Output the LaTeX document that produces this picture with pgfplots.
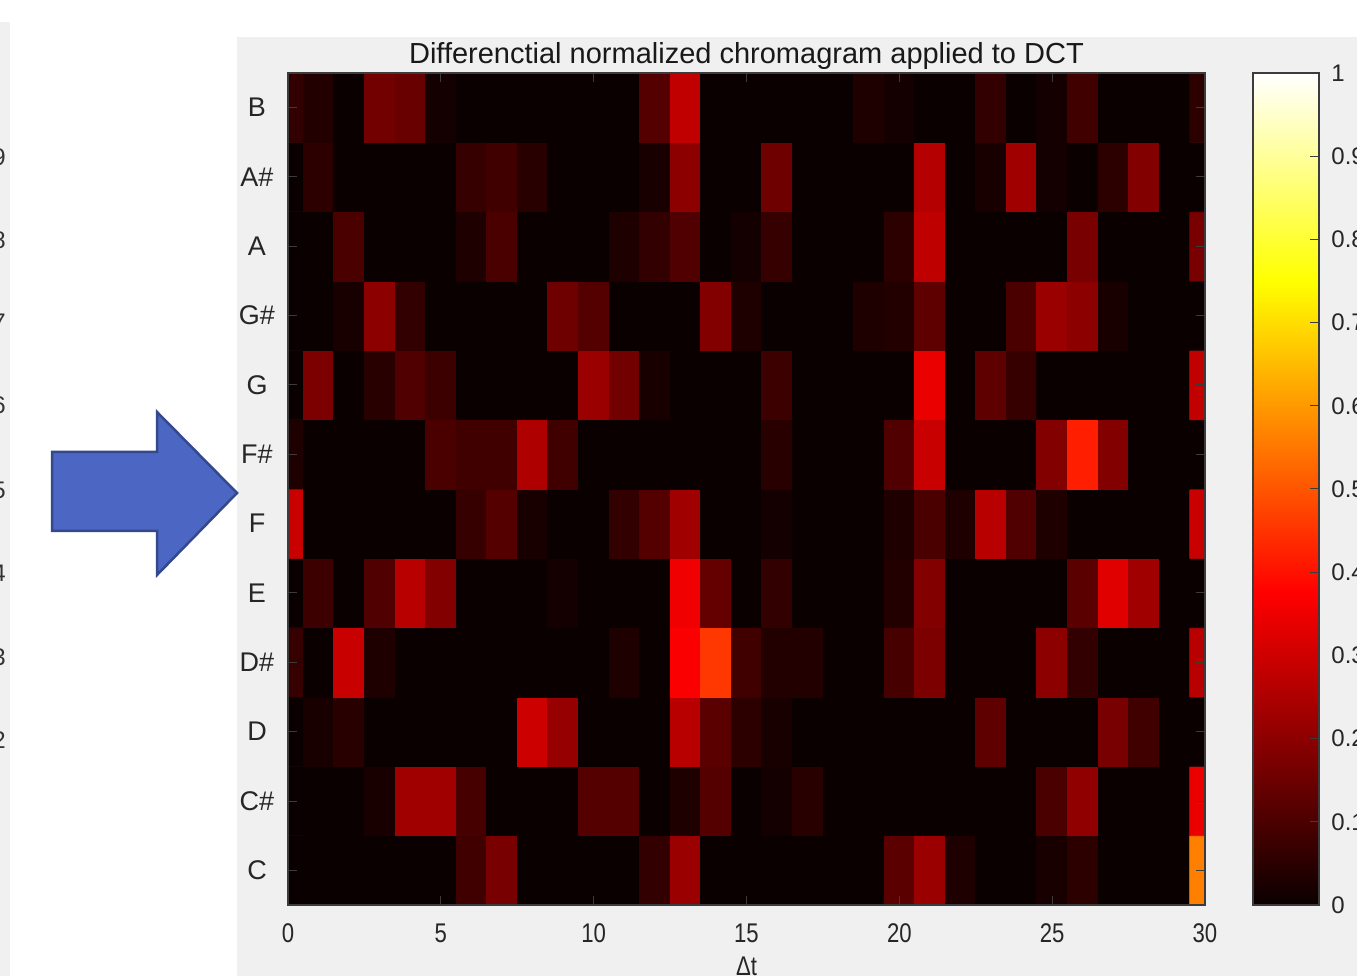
\documentclass[border=0pt]{standalone}
\usepackage{fontspec}
\setmainfont{Liberation Sans}
\newfontfamily\narrowfont{Liberation Sans}[FakeStretch=0.82]
\usepackage{pgfplots}
\pgfplotsset{compat=1.18}
\definecolor{panel}{RGB}{240,240,240}
\definecolor{arrowfill}{RGB}{76,102,196}
\definecolor{arrowline}{RGB}{52,72,140}
\definecolor{axcol}{RGB}{60,60,60}
\begin{document}
\begin{tikzpicture}
\begin{scope}[x=0.5pt,y=0.5pt]
\fill[white] (0,0) rectangle (1357,976);
\fill[panel] (237,0) rectangle (1357,939);
\fill[panel] (0,0) rectangle (10,954);
\begin{scope}
\clip (0,0) rectangle (1357,976);
\foreach \d/\yy in {9/819,8/736,7/654,6/571,5/486,4/403,3/319,2/236}{
  \node[anchor=east,inner sep=0,font=\fontsize{12}{12}\selectfont,text=black!80] at (6,\yy) {\d};}
\end{scope}
\filldraw[fill=arrowfill,draw=arrowline,line width=1.25pt,line join=miter]
  (52,524) -- (157,524) -- (157,564) -- (237,483) -- (157,401) -- (157,445) -- (52,445) -- cycle;
\end{scope}
\begin{axis}[
  at={(144pt,35.5pt)}, anchor=south west, scale only axis,
  width=458.5pt, height=416pt,
  xmin=0, xmax=30, ymin=0.5, ymax=12.5,
  xtick={0,5,10,15,20,25,30},
  ytick={1,2,3,4,5,6,7,8,9,10,11,12},
  yticklabels={C,C\#,D,D\#,E,F,F\#,G,G\#,A,A\#,B},
  tick align=inside, major tick length=4.5pt,
  tick style={axcol,line width=0.5pt},
  axis line style={axcol,line width=0.6pt},
  axis on top,
  /pgf/number format/assume math mode=true,
  xticklabel style={font=\narrowfont\fontsize{13.5}{13.5}\selectfont, anchor=base, inner sep=0, yshift=-18.5pt, text=black!85},
  yticklabel style={font=\fontsize{13.5}{13.5}\selectfont, anchor=center, inner sep=0, xshift=-15.5pt, text=black!85},
  title={Differenctial normalized chromagram applied to DCT},
  title style={font=\fontsize{14.5}{14.5}\selectfont, at={(0.5,1)}, anchor=base, inner sep=0, yshift=-1.5pt, text=black!90},
  xlabel={Δt},
  xlabel style={font=\narrowfont\fontsize{13.5}{13.5}\selectfont, at={(0.5,0)}, anchor=north, inner sep=0, yshift=-26pt, text=black!85},
  colormap={mhot}{rgb255(0cm)=(10,0,0) rgb255(9cm)=(255,0,0) rgb255(18cm)=(255,255,0) rgb255(24cm)=(255,255,255)},
  point meta min=0, point meta max=1,
  colorbar,
  colorbar/width=33pt,
  colorbar style={
    at={(parent axis.north east)}, anchor=north west, xshift=15.5pt,
    scale only axis, width=33pt,
    ytick={0,0.1,0.2,0.3,0.4,0.5,0.6,0.7,0.8,0.9,1},
    tick align=inside, major tick length=4.5pt, ytick pos=right,
    tick style={axcol,line width=0.5pt},
    axis line style={axcol,line width=0.6pt},
    /pgf/number format/assume math mode=true,
    yticklabel style={font=\fontsize{12}{12}\selectfont, anchor=west, inner sep=0, xshift=6pt, text=black!85},
  },
]
\addplot[matrix plot*, mesh/cols=31, point meta=explicit] table[row sep=\\, x=x, y=y, meta=v] {
x y v\\
0 1 0\\1 1 0\\2 1 0\\3 1 0\\4 1 0\\5 1 0\\6 1 0.084\\7 1 0.168\\8 1 0\\9 1 0\\10 1 0\\11 1 0\\12 1 0.061\\13 1 0.222\\14 1 0\\15 1 0\\16 1 0\\17 1 0\\18 1 0\\19 1 0\\20 1 0.122\\21 1 0.222\\22 1 0.031\\23 1 0\\24 1 0\\25 1 0.023\\26 1 0.054\\27 1 0\\28 1 0\\29 1 0\\30 1 0.563\\
0 2 0\\1 2 0\\2 2 0\\3 2 0.023\\4 2 0.230\\5 2 0.230\\6 2 0.092\\7 2 0\\8 2 0\\9 2 0\\10 2 0.115\\11 2 0.115\\12 2 0\\13 2 0.031\\14 2 0.115\\15 2 0\\16 2 0.015\\17 2 0.046\\18 2 0\\19 2 0\\20 2 0\\21 2 0\\22 2 0\\23 2 0\\24 2 0\\25 2 0.099\\26 2 0.207\\27 2 0\\28 2 0\\29 2 0\\30 2 0.344\\
0 3 0\\1 3 0.023\\2 3 0.046\\3 3 0\\4 3 0\\5 3 0\\6 3 0\\7 3 0\\8 3 0.298\\9 3 0.214\\10 3 0\\11 3 0\\12 3 0\\13 3 0.268\\14 3 0.122\\15 3 0.054\\16 3 0.023\\17 3 0\\18 3 0\\19 3 0\\20 3 0\\21 3 0\\22 3 0\\23 3 0.130\\24 3 0\\25 3 0\\26 3 0\\27 3 0.168\\28 3 0.084\\29 3 0\\30 3 0\\
0 4 0.069\\1 4 0\\2 4 0.291\\3 4 0.031\\4 4 0\\5 4 0\\6 4 0\\7 4 0\\8 4 0\\9 4 0\\10 4 0\\11 4 0.031\\12 4 0\\13 4 0.367\\14 4 0.456\\15 4 0.084\\16 4 0.038\\17 4 0.038\\18 4 0\\19 4 0\\20 4 0.092\\21 4 0.176\\22 4 0\\23 4 0\\24 4 0\\25 4 0.199\\26 4 0.061\\27 4 0\\28 4 0\\29 4 0\\30 4 0.268\\
0 5 0\\1 5 0.077\\2 5 0\\3 5 0.107\\4 5 0.268\\5 5 0.184\\6 5 0\\7 5 0\\8 5 0\\9 5 0.015\\10 5 0\\11 5 0\\12 5 0\\13 5 0.352\\14 5 0.138\\15 5 0\\16 5 0.061\\17 5 0\\18 5 0\\19 5 0\\20 5 0.038\\21 5 0.184\\22 5 0\\23 5 0\\24 5 0\\25 5 0\\26 5 0.122\\27 5 0.329\\28 5 0.230\\29 5 0\\30 5 0\\
0 6 0.291\\1 6 0\\2 6 0\\3 6 0\\4 6 0\\5 6 0\\6 6 0.069\\7 6 0.115\\8 6 0.023\\9 6 0\\10 6 0\\11 6 0.061\\12 6 0.115\\13 6 0.230\\14 6 0\\15 6 0\\16 6 0.015\\17 6 0\\18 6 0\\19 6 0\\20 6 0.031\\21 6 0.099\\22 6 0.031\\23 6 0.268\\24 6 0.107\\25 6 0.031\\26 6 0\\27 6 0\\28 6 0\\29 6 0\\30 6 0.291\\
0 7 0.031\\1 7 0\\2 7 0\\3 7 0\\4 7 0\\5 7 0.099\\6 7 0.084\\7 7 0.084\\8 7 0.253\\9 7 0.084\\10 7 0\\11 7 0\\12 7 0\\13 7 0\\14 7 0\\15 7 0\\16 7 0.046\\17 7 0\\18 7 0\\19 7 0\\20 7 0.107\\21 7 0.291\\22 7 0\\23 7 0\\24 7 0\\25 7 0.184\\26 7 0.420\\27 7 0.184\\28 7 0\\29 7 0\\30 7 0\\
0 8 0\\1 8 0.176\\2 8 0\\3 8 0.046\\4 8 0.107\\5 8 0.077\\6 8 0\\7 8 0\\8 8 0\\9 8 0\\10 8 0.222\\11 8 0.161\\12 8 0.023\\13 8 0\\14 8 0\\15 8 0\\16 8 0.077\\17 8 0\\18 8 0\\19 8 0\\20 8 0\\21 8 0.344\\22 8 0\\23 8 0.130\\24 8 0.069\\25 8 0\\26 8 0\\27 8 0\\28 8 0\\29 8 0\\30 8 0.283\\
0 9 0\\1 9 0\\2 9 0.023\\3 9 0.199\\4 9 0.061\\5 9 0\\6 9 0\\7 9 0\\8 9 0\\9 9 0.153\\10 9 0.115\\11 9 0\\12 9 0\\13 9 0\\14 9 0.184\\15 9 0.031\\16 9 0\\17 9 0\\18 9 0\\19 9 0.031\\20 9 0.038\\21 9 0.130\\22 9 0\\23 9 0\\24 9 0.099\\25 9 0.222\\26 9 0.199\\27 9 0.023\\28 9 0\\29 9 0\\30 9 0\\
0 10 0\\1 10 0\\2 10 0.099\\3 10 0\\4 10 0\\5 10 0\\6 10 0.031\\7 10 0.099\\8 10 0\\9 10 0\\10 10 0\\11 10 0.031\\12 10 0.061\\13 10 0.107\\14 10 0\\15 10 0.015\\16 10 0.069\\17 10 0\\18 10 0\\19 10 0\\20 10 0.054\\21 10 0.276\\22 10 0\\23 10 0\\24 10 0\\25 10 0\\26 10 0.168\\27 10 0\\28 10 0\\29 10 0\\30 10 0.168\\
0 11 0\\1 11 0.054\\2 11 0\\3 11 0\\4 11 0\\5 11 0\\6 11 0.069\\7 11 0.084\\8 11 0.046\\9 11 0\\10 11 0\\11 11 0\\12 11 0.023\\13 11 0.199\\14 11 0\\15 11 0\\16 11 0.153\\17 11 0\\18 11 0\\19 11 0\\20 11 0\\21 11 0.260\\22 11 0\\23 11 0.023\\24 11 0.230\\25 11 0.015\\26 11 0\\27 11 0.054\\28 11 0.184\\29 11 0\\30 11 0\\
0 12 0.061\\1 12 0.038\\2 12 0\\3 12 0.161\\4 12 0.145\\5 12 0.015\\6 12 0\\7 12 0\\8 12 0\\9 12 0\\10 12 0\\11 12 0\\12 12 0.115\\13 12 0.279\\14 12 0\\15 12 0\\16 12 0\\17 12 0\\18 12 0\\19 12 0.031\\20 12 0.015\\21 12 0\\22 12 0\\23 12 0.061\\24 12 0\\25 12 0.015\\26 12 0.084\\27 12 0\\28 12 0\\29 12 0\\30 12 0.054\\
};
\end{axis}
\pgfresetboundingbox
\path[use as bounding box] (0,0) rectangle (678.5pt,488pt);
\end{tikzpicture}
\end{document}
